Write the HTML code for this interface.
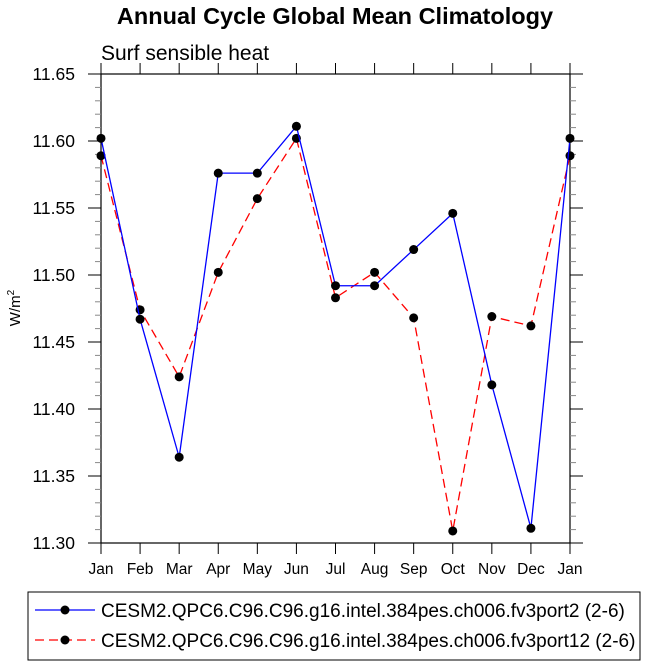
<!DOCTYPE html>
<html><head><meta charset="utf-8"><style>
body{margin:0;background:#fff;width:649px;height:665px;overflow:hidden;font-family:"Liberation Sans",sans-serif}
</style></head><body>
<svg id="chart" width="649" height="665" xmlns="http://www.w3.org/2000/svg" font-family="Liberation Sans, sans-serif">
<text x="335" y="24" text-anchor="middle" font-size="23.5" font-weight="bold">Annual Cycle Global Mean Climatology</text>
<text x="101" y="60" font-size="21">Surf sensible heat</text>
<text transform="translate(20,308) rotate(-90)" text-anchor="middle" font-size="15">W/m<tspan font-size="10" dy="-6">2</tspan></text>
<g id="axes"></g>
<g id="series"></g>
<g>
<rect x="28" y="592" width="612" height="68" fill="none" stroke="#000" stroke-width="1"/>
<line x1="35" y1="610" x2="95" y2="610" stroke="#0000ff" stroke-width="1.3"/>
<circle cx="65" cy="610" r="4.5" fill="#000"/>
<text x="101" y="617" font-size="19">CESM2.QPC6.C96.C96.g16.intel.384pes.ch006.fv3port2 (2-6)</text>
<line x1="35" y1="640" x2="95" y2="640" stroke="#ff0000" stroke-width="1.3" stroke-dasharray="9,5"/>
<circle cx="65" cy="640" r="4.5" fill="#000"/>
<text x="101" y="647" font-size="19">CESM2.QPC6.C96.C96.g16.intel.384pes.ch006.fv3port12 (2-6)</text>
</g>
</svg>
<script>
const months = ["Jan","Feb","Mar","Apr","May","Jun","Jul","Aug","Sep","Oct","Nov","Dec","Jan"];
const yTicks = [11.30,11.35,11.40,11.45,11.50,11.55,11.60,11.65];
const blueValues = [11.602,11.467,11.364,11.576,11.576,11.611,11.492,11.492,11.519,11.546,11.418,11.311,11.602];
const redValues = [11.589,11.474,11.424,11.502,11.557,11.602,11.483,11.502,11.468,11.309,11.469,11.462,11.589];

const L=101,R=570,T=74,B=543,yMin=11.30,yMax=11.65;
const xs=i=>L+(R-L)*i/(months.length-1);
const ys=v=>B-(v-yMin)/(yMax-yMin)*(B-T);
const NS="http://www.w3.org/2000/svg";
function mk(tag,attrs,parent){const e=document.createElementNS(NS,tag);for(const k in attrs)e.setAttribute(k,attrs[k]);parent.appendChild(e);return e;}
const ax=document.getElementById('axes');
const frame=mk('rect',{x:L,y:T,width:R-L,height:B-T,fill:'none',stroke:'#000','stroke-width':1.2},ax);


months.forEach((m,i)=>{
  const x=xs(i);
  mk('line',{x1:x,y1:B,x2:x,y2:B+11,stroke:'#000','stroke-width':1},ax);
  mk('line',{x1:x,y1:T,x2:x,y2:T-11,stroke:'#000','stroke-width':1},ax);
  const t=mk('text',{x:x,y:B+31,'text-anchor':'middle','font-size':15.5},ax);
  t.textContent=m;
  
  
});
for(let k=0;k<yTicks.length;k++){
  const v=yTicks[k],y=ys(v);
  mk('line',{x1:L-13,y1:y,x2:L,y2:y,stroke:'#000','stroke-width':1},ax);
  mk('line',{x1:R,y1:y,x2:R+13,y2:y,stroke:'#000','stroke-width':1},ax);
  const t=mk('text',{x:L-26,y:y+6,'text-anchor':'end','font-size':17.5},ax);
  t.textContent=v.toFixed(2);
  
  
  if(k<yTicks.length-1){for(let j=1;j<5;j++){const yy=ys(v+0.01*j);
    mk('line',{x1:L-6,y1:yy,x2:L,y2:yy,stroke:'#888','stroke-width':1},ax);
    mk('line',{x1:R,y1:yy,x2:R+6,y2:yy,stroke:'#888','stroke-width':1},ax);}}
}
const sg=document.getElementById('series');
function draw(vals,color,dash,name){
  const pl=mk('polyline',{points:vals.map((v,i)=>xs(i)+','+ys(v)).join(' '),fill:'none',stroke:color,'stroke-width':1.3,'stroke-dasharray':dash},sg);
  
  
  vals.forEach((v,i)=>{const c=mk('circle',{cx:xs(i),cy:ys(v),r:4.5,fill:'#000'},sg);
    
    });
}
draw(redValues,'#ff0000','9,5','fv3port12');
draw(blueValues,'#0000ff','none','fv3port2');
</script>
</body></html>
